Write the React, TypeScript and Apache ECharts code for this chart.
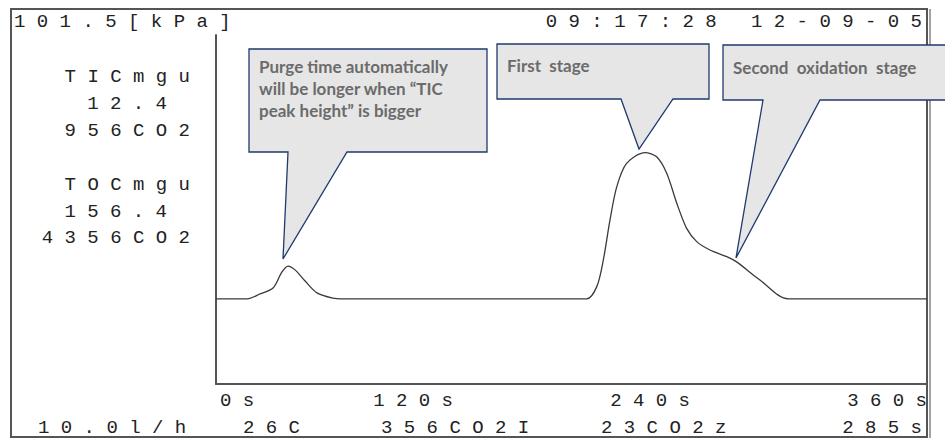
import React, { useEffect, useRef } from "react";
import * as echarts from "echarts";

// ---- data ----
const timeS = [0, 15.7, 22.3, 28.9, 33.4, 36.5, 40, 45.1, 51.1, 59.2, 64.3, 187.7, 192.8, 196.1, 199.5, 202.9, 207.9, 217.2, 223.1, 228.2, 233.3, 238.3, 243.4, 250.1, 258.6, 263.6, 275.4, 289.8, 360];
const signal = [24.4, 24.4, 25.8, 27.5, 32.1, 33.8, 32.7, 29.5, 26.1, 24.6, 24.4, 24.4, 27.9, 35.5, 47.0, 56.5, 63.2, 66.3, 65.1, 60.4, 51.8, 44.6, 40.8, 38.4, 36.5, 35.0, 29.8, 24.4, 24.4];
const xTickLabels = ["0 s", "1 2 0 s", "2 4 0 s", "3 6 0 s"];
const headerLeft = "1 0 1 . 5 [ k P a ]";
const headerRight = "0 9 : 1 7 : 2 8   1 2 - 0 9 - 0 5";
const ticLines = ["T I C m g u", "1 2 . 4", "9 5 6 C O 2"];
const tocLines = ["T O C m g u", "1 5 6 . 4", "4 3 5 6 C O 2"];
const footer = ["1 0 . 0 l / h", "2 6 C", "3 5 6 C O 2 I", "2 3 C O 2 z", "2 8 5 s"];
const calloutTexts = [
  "Purge time automatically\nwill be longer when \u201cTIC\npeak height\u201d is bigger",
  "First  stage",
  "Second  oxidation  stage",
];

const MONO = "'Liberation Mono', 'DejaVu Sans Mono', monospace";
const TXT = "#222";

function monoText(x: number, y: number, text: string, align: string = "left") {
  return {
    type: "text",
    x,
    y,
    z: 5,
    style: { text, fill: TXT, font: `19px ${MONO}`, align, verticalAlign: "middle" },
  };
}

function callout(box: number[], base: number[], tip: number[], text: string, tx: number, ty: number) {
  const [l, t, r, b] = box;
  return [
    {
      type: "polygon",
      z: 20,
      shape: {
        points: [
          [l, t], [r, t], [r, b], [base[1], b], [tip[0], tip[1]], [base[0], b], [l, b],
        ],
      },
      style: { fill: "#e6e6e6", stroke: "#1f3a6e", lineWidth: 1.3 },
    },
    {
      type: "text",
      z: 21,
      x: tx,
      y: ty,
      style: {
        text,
        fill: "#6b6b6b",
        font: "bold 17px Lato, 'Open Sans', sans-serif",
        lineHeight: 22,
        align: "left",
        verticalAlign: "top",
      },
    },
  ];
}

export default function App() {
  const ref = useRef<HTMLDivElement>(null);
  useEffect(() => {
    if (!ref.current) return;
    const chart = echarts.init(ref.current, null, { renderer: "svg" });
    const lineY = [77, 104, 131];
    const tocY = [185, 212, 238];
    const graphic: any[] = [
      { type: "rect", z: 1, shape: { x: 11, y: 9, width: 916, height: 428 }, style: { fill: "none", stroke: "#555", lineWidth: 2 } },
      { type: "line", z: 1, shape: { x1: 930, y1: 9, x2: 930, y2: 438 }, style: { stroke: "#666", lineWidth: 1.2 } },
      monoText(14, 22, headerLeft),
      monoText(922, 22, headerRight, "right"),
      monoText(190, lineY[0], ticLines[0], "right"),
      monoText(167, lineY[1], ticLines[1], "right"),
      monoText(190, lineY[2], ticLines[2], "right"),
      monoText(190, tocY[0], tocLines[0], "right"),
      monoText(167, tocY[1], tocLines[1], "right"),
      monoText(190, tocY[2], tocLines[2], "right"),
      monoText(38, 428, footer[0]),
      monoText(243, 428, footer[1]),
      monoText(381, 428, footer[2]),
      monoText(601, 428, footer[3]),
      monoText(922, 428, footer[4], "right"),
      ...callout([249, 49, 487, 152], [288, 347], [283, 259], calloutTexts[0], 259, 55),
      ...callout([497, 44, 709, 99], [621, 673], [639, 149], calloutTexts[1], 507, 54),
      ...callout([723, 45, 955, 100], [763, 820], [736, 258], calloutTexts[2], 733, 56),
    ];
    chart.setOption({
      animation: false,
      grid: { left: 216, top: 35, right: 18, bottom: 55, containLabel: false },
      xAxis: {
        type: "value",
        min: 0,
        max: 360,
        interval: 120,
        axisLine: { show: true, lineStyle: { color: "#555", width: 2 } },
        axisTick: { show: false },
        splitLine: { show: false },
        axisLabel: {
          formatter: (v: number) => xTickLabels[Math.round(v / 120)] ?? "",
          fontFamily: MONO,
          fontSize: 19,
          color: TXT,
          align: "right",
          alignMinLabel: "left",
          margin: 7,
          padding: [0, 0, 0, 4],
        },
      },
      yAxis: {
        type: "value",
        min: 0,
        max: 100,
        axisLine: { show: true, lineStyle: { color: "#555", width: 2 } },
        axisTick: { show: false },
        axisLabel: { show: false },
        splitLine: { show: false },
      },
      series: [
        {
          type: "line",
          data: timeS.map((t, i) => [t, signal[i]]),
          smooth: 0.3,
          showSymbol: false,
          symbol: "none",
          lineStyle: { color: "#3a3a3a", width: 1.3 },
        },
      ],
      graphic,
    });
    return () => chart.dispose();
  }, []);
  return (
    <div
      ref={ref}
      style={{ position: "absolute", left: 0, top: 0, width: 945, height: 439, background: "#fff" }}
    />
  );
}
